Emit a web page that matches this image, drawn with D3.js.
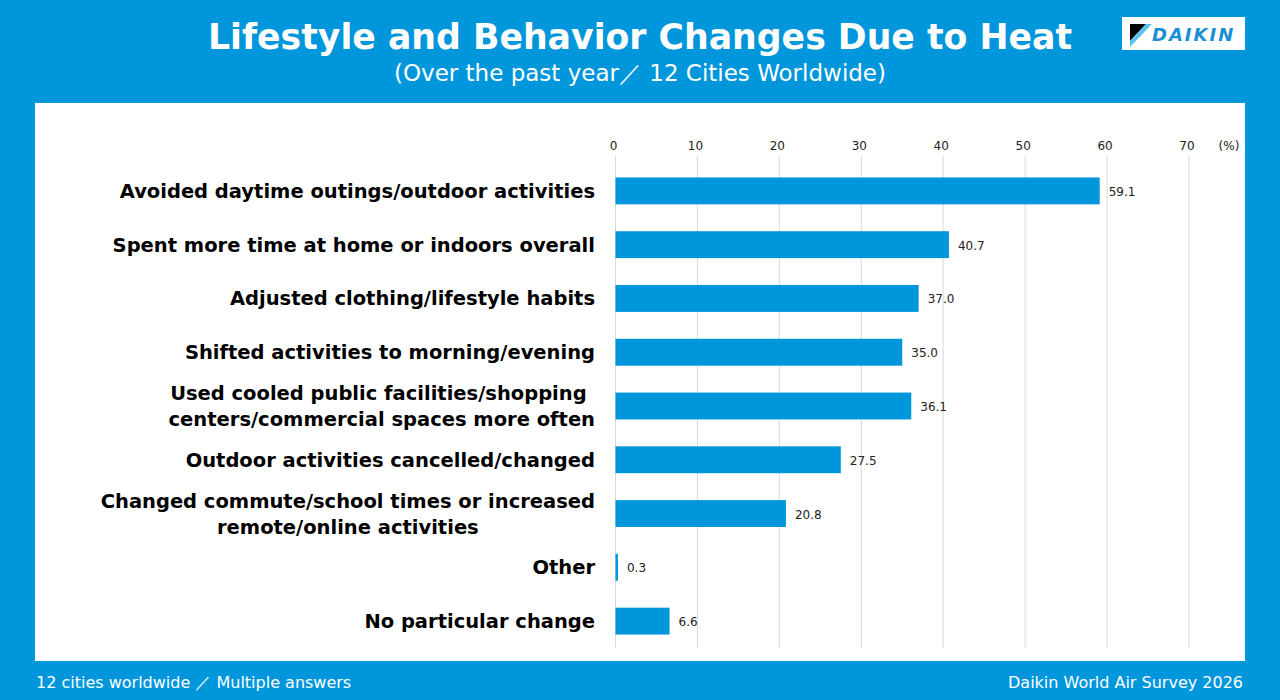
<!DOCTYPE html>
<html>
<head>
<meta charset="utf-8">
<script src="https://cdn.jsdelivr.net/npm/d3@7"></script>
<style>
  body { margin: 0; background: #0096dc; }
  svg { display: block; }
</style>
</head>
<body>
<svg id="chart" width="1280" height="700"></svg>
<script>
// data
var categories = [
    "Avoided daytime outings/outdoor activities",
    "Spent more time at home or indoors overall",
    "Adjusted clothing/lifestyle habits",
    "Shifted activities to morning/evening",
    "Used cooled public facilities/shopping \ncenters/commercial spaces more often",
    "Outdoor activities cancelled/changed",
    "Changed commute/school times or increased\nremote/online activities",
    "Other",
    "No particular change"
];
var values = [59.1, 40.7, 37.0, 35.0, 36.1, 27.5, 20.8, 0.3, 6.6];
var tickValues = [0, 10, 20, 30, 40, 50, 60, 70];

var blue = '#0096dc';
var font = '"DejaVu Sans", Verdana, sans-serif';
var svg = d3.select('#chart');

svg.append('rect').attr('width', 1280).attr('height', 700).attr('fill', blue);

// title
svg.append('text')
    .attr('x', 640).attr('y', 49)
    .attr('text-anchor', 'middle')
    .style('font-family', font).style('font-weight', 'bold').style('font-size', '34.7px')
    .attr('fill', '#fff')
    .text('Lifestyle and Behavior Changes Due to Heat');
svg.append('text')
    .attr('x', 640).attr('y', 81)
    .attr('text-anchor', 'middle')
    .style('font-family', font).style('font-size', '23px')
    .attr('fill', '#fff')
    .text('(Over the past year\uFF0F 12 Cities Worldwide)');

// logo
var logo = svg.append('g').attr('transform', 'translate(1122,17)');
logo.append('rect').attr('width', 123).attr('height', 33).attr('fill', '#fff');
logo.append('path').attr('d', 'M8,7 L24,7 L8,24 Z').attr('fill', '#000');
logo.append('path').attr('d', 'M24,7 L30,7 L8,30 L8,24 Z').attr('fill', '#5bc2ec');
logo.append('text')
    .attr('x', 30).attr('y', 24)
    .style('font-family', font).style('font-weight', 'bold').style('font-style', 'italic')
    .style('font-size', '18px').style('letter-spacing', '2px')
    .attr('fill', '#1a8fd6')
    .text('DAIKIN');

// panel
svg.append('rect')
    .attr('x', 35).attr('y', 103).attr('width', 1210).attr('height', 558)
    .attr('fill', '#fff');

var x = d3.scaleLinear().domain([0, 70]).range([615.5, 1189]);
var y = d3.scaleBand().domain(categories).range([164, 648]).paddingInner(0.5).paddingOuter(0.25);

// grid
svg.append('g').selectAll('line')
    .data(tickValues)
    .join('line')
    .attr('x1', d => x(d)).attr('x2', d => x(d))
    .attr('y1', 156).attr('y2', 648)
    .attr('stroke', '#d9d9d9').attr('stroke-width', 1);

// top axis labels
svg.append('g').selectAll('text')
    .data(tickValues)
    .join('text')
    .attr('x', d => x(d) - 2).attr('y', 150)
    .attr('text-anchor', 'middle')
    .style('font-family', font).style('font-size', '12px')
    .attr('fill', '#222')
    .text(d => d);
svg.append('text')
    .attr('x', 1229).attr('y', 150)
    .attr('text-anchor', 'middle')
    .style('font-family', font).style('font-size', '12px')
    .attr('fill', '#222')
    .text('(%)');

// bars
svg.append('g').selectAll('rect')
    .data(values)
    .join('rect')
    .attr('x', x(0))
    .attr('y', (d, i) => y(categories[i]))
    .attr('width', d => x(d) - x(0))
    .attr('height', y.bandwidth())
    .attr('fill', blue);

// value labels
svg.append('g').selectAll('text')
    .data(values)
    .join('text')
    .attr('x', d => x(d) + 9)
    .attr('y', (d, i) => y(categories[i]) + y.bandwidth() / 2 + 5)
    .style('font-family', font).style('font-size', '12px')
    .attr('fill', '#222')
    .text(d => d.toFixed(1));

// category labels - multi-line labels are centred within a right-aligned block
var labelRight = 595;
svg.append('g').selectAll('text')
    .data(categories)
    .join('text')
    .style('font-family', font).style('font-weight', 'bold').style('font-size', '19.5px')
    .attr('fill', '#000')
    .attr('y', d => y(d) + y.bandwidth() / 2 + 7)
    .each(function(d) {
        var lines = d.split('\n');
        var t = d3.select(this);
        var spans = lines.map(function(l, j) {
            return t.append('tspan')
                .attr('dy', j == 0 ? (-(lines.length - 1) * 26 / 2) : 26)
                .text(l);
        });
        if (lines.length == 1) {
            t.attr('text-anchor', 'end');
            spans[0].attr('x', labelRight);
        } else {
            var w = d3.max(spans, s => s.node().getComputedTextLength());
            t.attr('text-anchor', 'middle');
            spans.forEach(s => s.attr('x', labelRight - w / 2));
        }
    });

// footer
svg.append('text')
    .attr('x', 36).attr('y', 688)
    .style('font-family', font).style('font-size', '16px')
    .attr('fill', '#fff')
    .text('12 cities worldwide \uFF0F  Multiple answers');
svg.append('text')
    .attr('x', 1243).attr('y', 688)
    .attr('text-anchor', 'end')
    .style('font-family', font).style('font-size', '16px')
    .attr('fill', '#fff')
    .text('Daikin World Air Survey 2026');
</script>
</body>
</html>
